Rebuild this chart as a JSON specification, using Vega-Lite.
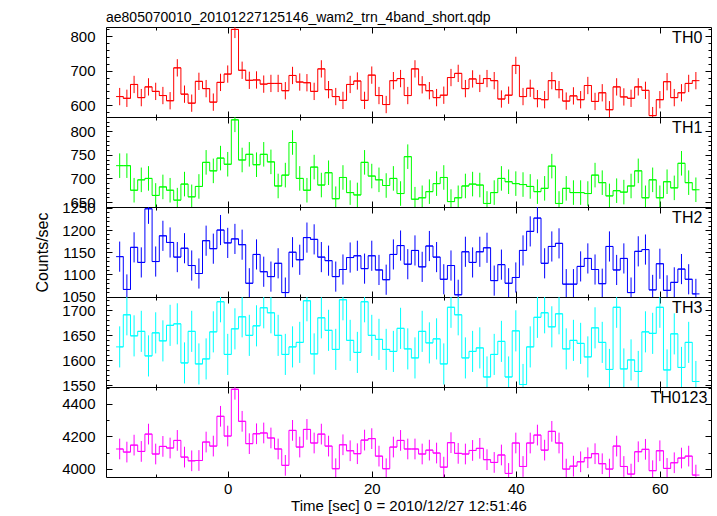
{
"$schema": "https://vega.github.io/schema/vega-lite/v6.json",
"padding": {"left": 34, "top": 11, "right": 5, "bottom": 2},
"title": {"text": "ae805070010_20101227125146_wam2_trn_4band_short.qdp", "anchor": "start", "frame": "group", "offset": -10, "baseline": "alphabetic", "fontSize": 14, "fontWeight": "normal", "font": "Liberation Sans", "color": "#000"},
"data": {"values": [
{"t":-15,"th0":625,"th1":727,"th2":1140,"th3":1627,"th4":4122,"e0":25,"e1":26,"e2":34,"e3":41,"e4":64},
{"t":-14,"th0":620,"th1":727,"th2":1066,"th3":1691,"th4":4103,"e0":25,"e1":26,"e2":34,"e3":41,"e4":64},
{"t":-13,"th0":660,"th1":675,"th2":1161,"th3":1649,"th4":4146,"e0":25,"e1":26,"e2":34,"e3":41,"e4":64},
{"t":-12,"th0":622,"th1":697,"th2":1127,"th3":1658,"th4":4107,"e0":25,"e1":26,"e2":34,"e3":41,"e4":64},
{"t":-11,"th0":653,"th1":700,"th2":1248,"th3":1609,"th4":4214,"e0":25,"e1":26,"e2":34,"e3":41,"e4":64},
{"t":-10,"th0":640,"th1":664,"th2":1129,"th3":1655,"th4":4091,"e0":25,"e1":26,"e2":34,"e3":41,"e4":64},
{"t":-9,"th0":628,"th1":682,"th2":1187,"th3":1639,"th4":4138,"e0":25,"e1":26,"e2":34,"e3":41,"e4":64},
{"t":-8,"th0":613,"th1":675,"th2":1172,"th3":1670,"th4":4128,"e0":25,"e1":26,"e2":34,"e3":41,"e4":64},
{"t":-7,"th0":708,"th1":654,"th2":1139,"th3":1673,"th4":4175,"e0":25,"e1":26,"e2":34,"e3":41,"e4":64},
{"t":-6,"th0":632,"th1":688,"th2":1159,"th3":1595,"th4":4072,"e0":25,"e1":26,"e2":34,"e3":41,"e4":64},
{"t":-5,"th0":606,"th1":661,"th2":1120,"th3":1658,"th4":4049,"e0":25,"e1":26,"e2":34,"e3":41,"e4":64},
{"t":-4,"th0":669,"th1":683,"th2":1102,"th3":1593,"th4":4051,"e0":25,"e1":26,"e2":34,"e3":41,"e4":64},
{"t":-3,"th0":648,"th1":734,"th2":1176,"th3":1603,"th4":4165,"e0":25,"e1":26,"e2":34,"e3":41,"e4":64},
{"t":-2,"th0":609,"th1":716,"th2":1158,"th3":1657,"th4":4140,"e0":25,"e1":26,"e2":34,"e3":41,"e4":64},
{"t":-1,"th0":666,"th1":743,"th2":1200,"th3":1717,"th4":4324,"e0":25,"e1":26,"e2":34,"e3":41,"e4":64},
{"t":0,"th0":690,"th1":730,"th2":1171,"th3":1612,"th4":4202,"e0":25,"e1":26,"e2":34,"e3":41,"e4":64},
{"t":1,"th0":819,"th1":824,"th2":1180,"th3":1663,"th4":4491,"e0":25,"e1":26,"e2":34,"e3":41,"e4":64},
{"t":2,"th0":701,"th1":739,"th2":1167,"th3":1687,"th4":4293,"e0":25,"e1":26,"e2":34,"e3":41,"e4":64},
{"t":3,"th0":672,"th1":751,"th2":1080,"th3":1650,"th4":4155,"e0":25,"e1":26,"e2":34,"e3":41,"e4":64},
{"t":4,"th0":673,"th1":729,"th2":1145,"th3":1669,"th4":4216,"e0":25,"e1":26,"e2":34,"e3":41,"e4":64},
{"t":5,"th0":661,"th1":751,"th2":1106,"th3":1705,"th4":4221,"e0":25,"e1":26,"e2":34,"e3":41,"e4":64},
{"t":6,"th0":663,"th1":735,"th2":1095,"th3":1695,"th4":4190,"e0":25,"e1":26,"e2":34,"e3":41,"e4":64},
{"t":7,"th0":663,"th1":684,"th2":1125,"th3":1650,"th4":4122,"e0":25,"e1":26,"e2":34,"e3":41,"e4":64},
{"t":8,"th0":642,"th1":707,"th2":1059,"th3":1612,"th4":4021,"e0":25,"e1":26,"e2":34,"e3":41,"e4":64},
{"t":9,"th0":686,"th1":776,"th2":1150,"th3":1627,"th4":4237,"e0":25,"e1":26,"e2":34,"e3":41,"e4":64},
{"t":10,"th0":667,"th1":700,"th2":1133,"th3":1636,"th4":4134,"e0":25,"e1":26,"e2":34,"e3":41,"e4":64},
{"t":11,"th0":665,"th1":675,"th2":1183,"th3":1719,"th4":4243,"e0":25,"e1":26,"e2":34,"e3":41,"e4":64},
{"t":12,"th0":640,"th1":724,"th2":1179,"th3":1613,"th4":4159,"e0":25,"e1":26,"e2":34,"e3":41,"e4":64},
{"t":13,"th0":705,"th1":686,"th2":1139,"th3":1685,"th4":4214,"e0":25,"e1":26,"e2":34,"e3":41,"e4":64},
{"t":14,"th0":645,"th1":712,"th2":1131,"th3":1660,"th4":4140,"e0":25,"e1":26,"e2":34,"e3":41,"e4":64},
{"t":15,"th0":625,"th1":657,"th2":1095,"th3":1622,"th4":4000,"e0":25,"e1":26,"e2":34,"e3":41,"e4":64},
{"t":16,"th0":614,"th1":702,"th2":1111,"th3":1721,"th4":4148,"e0":25,"e1":26,"e2":34,"e3":41,"e4":64},
{"t":17,"th0":660,"th1":670,"th2":1138,"th3":1640,"th4":4111,"e0":25,"e1":26,"e2":34,"e3":41,"e4":64},
{"t":18,"th0":670,"th1":665,"th2":1142,"th3":1616,"th4":4093,"e0":25,"e1":26,"e2":34,"e3":41,"e4":64},
{"t":19,"th0":614,"th1":734,"th2":1113,"th3":1717,"th4":4177,"e0":25,"e1":26,"e2":34,"e3":41,"e4":64},
{"t":20,"th0":687,"th1":705,"th2":1142,"th3":1650,"th4":4186,"e0":25,"e1":26,"e2":34,"e3":41,"e4":64},
{"t":21,"th0":628,"th1":697,"th2":1110,"th3":1642,"th4":4078,"e0":25,"e1":26,"e2":34,"e3":41,"e4":64},
{"t":22,"th0":602,"th1":685,"th2":1088,"th3":1622,"th4":4000,"e0":25,"e1":26,"e2":34,"e3":41,"e4":64},
{"t":23,"th0":671,"th1":700,"th2":1145,"th3":1618,"th4":4134,"e0":25,"e1":26,"e2":34,"e3":41,"e4":64},
{"t":24,"th0":677,"th1":668,"th2":1165,"th3":1664,"th4":4175,"e0":25,"e1":26,"e2":34,"e3":41,"e4":64},
{"t":25,"th0":628,"th1":746,"th2":1123,"th3":1623,"th4":4122,"e0":25,"e1":26,"e2":34,"e3":41,"e4":64},
{"t":26,"th0":705,"th1":656,"th2":1154,"th3":1605,"th4":4122,"e0":25,"e1":26,"e2":34,"e3":41,"e4":64},
{"t":27,"th0":659,"th1":659,"th2":1117,"th3":1658,"th4":4091,"e0":25,"e1":26,"e2":34,"e3":41,"e4":64},
{"t":28,"th0":642,"th1":672,"th2":1164,"th3":1635,"th4":4115,"e0":25,"e1":26,"e2":34,"e3":41,"e4":64},
{"t":29,"th0":622,"th1":689,"th2":1139,"th3":1643,"th4":4097,"e0":25,"e1":26,"e2":34,"e3":41,"e4":64},
{"t":30,"th0":629,"th1":702,"th2":1089,"th3":1593,"th4":4010,"e0":25,"e1":26,"e2":34,"e3":41,"e4":64},
{"t":31,"th0":680,"th1":651,"th2":1120,"th3":1706,"th4":4161,"e0":25,"e1":26,"e2":34,"e3":41,"e4":64},
{"t":32,"th0":692,"th1":659,"th2":1054,"th3":1691,"th4":4095,"e0":25,"e1":26,"e2":34,"e3":41,"e4":64},
{"t":33,"th0":648,"th1":684,"th2":1151,"th3":1605,"th4":4091,"e0":25,"e1":26,"e2":34,"e3":41,"e4":64},
{"t":34,"th0":676,"th1":688,"th2":1127,"th3":1618,"th4":4113,"e0":25,"e1":26,"e2":34,"e3":41,"e4":64},
{"t":35,"th0":663,"th1":686,"th2":1151,"th3":1625,"th4":4126,"e0":25,"e1":26,"e2":34,"e3":41,"e4":64},
{"t":36,"th0":677,"th1":647,"th2":1160,"th3":1567,"th4":4056,"e0":25,"e1":26,"e2":34,"e3":41,"e4":64},
{"t":37,"th0":671,"th1":670,"th2":1086,"th3":1612,"th4":4039,"e0":25,"e1":26,"e2":34,"e3":41,"e4":64},
{"t":38,"th0":618,"th1":700,"th2":1122,"th3":1638,"th4":4085,"e0":25,"e1":26,"e2":34,"e3":41,"e4":64},
{"t":39,"th0":629,"th1":693,"th2":1080,"th3":1567,"th4":3971,"e0":25,"e1":26,"e2":34,"e3":41,"e4":64},
{"t":40,"th0":715,"th1":689,"th2":1093,"th3":1659,"th4":4159,"e0":25,"e1":26,"e2":34,"e3":41,"e4":64},
{"t":41,"th0":625,"th1":687,"th2":1154,"th3":1552,"th4":4014,"e0":25,"e1":26,"e2":34,"e3":41,"e4":64},
{"t":42,"th0":649,"th1":683,"th2":1197,"th3":1627,"th4":4159,"e0":25,"e1":26,"e2":34,"e3":41,"e4":64},
{"t":43,"th0":619,"th1":672,"th2":1227,"th3":1686,"th4":4208,"e0":25,"e1":26,"e2":34,"e3":41,"e4":64},
{"t":44,"th0":616,"th1":679,"th2":1125,"th3":1695,"th4":4115,"e0":25,"e1":26,"e2":34,"e3":41,"e4":64},
{"t":45,"th0":671,"th1":726,"th2":1163,"th3":1667,"th4":4231,"e0":25,"e1":26,"e2":34,"e3":41,"e4":64},
{"t":46,"th0":645,"th1":647,"th2":1170,"th3":1693,"th4":4159,"e0":25,"e1":26,"e2":34,"e3":41,"e4":64},
{"t":47,"th0":612,"th1":679,"th2":1078,"th3":1623,"th4":3998,"e0":25,"e1":26,"e2":34,"e3":41,"e4":64},
{"t":48,"th0":627,"th1":670,"th2":1078,"th3":1640,"th4":4016,"e0":25,"e1":26,"e2":34,"e3":41,"e4":64},
{"t":49,"th0":616,"th1":670,"th2":1118,"th3":1634,"th4":4043,"e0":25,"e1":26,"e2":34,"e3":41,"e4":64},
{"t":50,"th0":657,"th1":668,"th2":1136,"th3":1607,"th4":4068,"e0":25,"e1":26,"e2":34,"e3":41,"e4":64},
{"t":51,"th0":611,"th1":707,"th2":1111,"th3":1665,"th4":4093,"e0":25,"e1":26,"e2":34,"e3":41,"e4":64},
{"t":52,"th0":636,"th1":691,"th2":1079,"th3":1636,"th4":4031,"e0":25,"e1":26,"e2":34,"e3":41,"e4":64},
{"t":53,"th0":587,"th1":663,"th2":1163,"th3":1582,"th4":3998,"e0":25,"e1":26,"e2":34,"e3":41,"e4":64},
{"t":54,"th0":653,"th1":674,"th2":1110,"th3":1706,"th4":4140,"e0":25,"e1":26,"e2":34,"e3":41,"e4":64},
{"t":55,"th0":624,"th1":671,"th2":1136,"th3":1583,"th4":4014,"e0":25,"e1":26,"e2":34,"e3":41,"e4":64},
{"t":56,"th0":620,"th1":684,"th2":1059,"th3":1601,"th4":3967,"e0":25,"e1":26,"e2":34,"e3":41,"e4":64},
{"t":57,"th0":653,"th1":716,"th2":1152,"th3":1578,"th4":4105,"e0":25,"e1":26,"e2":34,"e3":41,"e4":64},
{"t":58,"th0":643,"th1":659,"th2":1156,"th3":1657,"th4":4120,"e0":25,"e1":26,"e2":34,"e3":41,"e4":64},
{"t":59,"th0":570,"th1":697,"th2":1065,"th3":1654,"th4":3988,"e0":25,"e1":26,"e2":34,"e3":41,"e4":64},
{"t":60,"th0":616,"th1":659,"th2":1124,"th3":1706,"th4":4111,"e0":25,"e1":26,"e2":34,"e3":41,"e4":64},
{"t":61,"th0":668,"th1":693,"th2":1064,"th3":1581,"th4":4002,"e0":25,"e1":26,"e2":34,"e3":41,"e4":64},
{"t":62,"th0":622,"th1":680,"th2":1082,"th3":1653,"th4":4037,"e0":25,"e1":26,"e2":34,"e3":41,"e4":64},
{"t":63,"th0":636,"th1":732,"th2":1112,"th3":1586,"th4":4066,"e0":25,"e1":26,"e2":34,"e3":41,"e4":64},
{"t":64,"th0":663,"th1":691,"th2":1089,"th3":1636,"th4":4078,"e0":25,"e1":26,"e2":34,"e3":41,"e4":64},
{"t":65,"th0":671,"th1":676,"th2":1056,"th3":1558,"th4":3961,"e0":25,"e1":26,"e2":34,"e3":41,"e4":64}
]},
"transform": [{"calculate": "datum.t - 0.5", "as": "t0"}, {"calculate": "datum.t + 0.5", "as": "t1"}],
"spacing": 0,
"bounds": "flush",
"vconcat": [
{
 "width": 605, "height": 90,
 "transform": [{"calculate": "datum.th0 - datum.e0", "as": "lo"}, {"calculate": "datum.th0 + datum.e0", "as": "hi"}],
 "resolve": {"axis": {"x": "independent", "y": "independent"}},
 "layer": [
  {"mark": {"type": "line", "interpolate": "step", "color": "#ff0000", "strokeWidth": 1, "clip": true},
   "encoding": {
    "x": {"field": "t", "type": "quantitative", "scale": {"domain": [-16.9, 67.1], "nice": false, "zero": false}, "axis": {"orient": "bottom", "values": [0, 20, 40, 60], "labels": false, "tickSize": -6, "title": null}},
    "y": {"field": "th0", "type": "quantitative", "scale": {"domain": [566, 826], "nice": false, "zero": false}, "axis": {"orient": "left", "values": [600, 700, 800], "format": "d", "tickSize": -6, "labelPadding": 17, "title": null}}}},
  {"mark": {"type": "rule", "color": "#ff0000", "strokeWidth": 1, "clip": true},
   "encoding": {
    "x": {"field": "t0", "type": "quantitative", "scale": {"domain": [-16.9, 67.1], "nice": false, "zero": false}, "axis": {"orient": "bottom", "values": [-10, 10, 30, 50], "labels": false, "tickSize": -3, "title": null}},
    "x2": {"field": "t1"},
    "y": {"field": "th0", "type": "quantitative", "scale": {"domain": [566, 826], "nice": false, "zero": false}, "axis": {"orient": "left", "values": [580, 620, 640, 660, 680, 720, 740, 760, 780, 820], "labels": false, "tickSize": -3, "title": null}}}},
  {"mark": {"type": "rule", "color": "#ff0000", "strokeWidth": 1, "clip": true},
   "encoding": {
    "x": {"field": "t", "type": "quantitative", "scale": {"domain": [-16.9, 67.1], "nice": false, "zero": false}, "axis": {"orient": "top", "values": [0, 20, 40, 60], "labels": false, "tickSize": -6, "title": null}},
    "y": {"field": "th0", "type": "quantitative", "scale": {"domain": [566, 826], "nice": false, "zero": false}, "axis": {"orient": "right", "values": [600, 700, 800], "labels": false, "tickSize": -6, "title": null}},
    "y2": {"field": "hi"}}},
  {"mark": {"type": "rule", "color": "#ff0000", "strokeWidth": 1, "clip": true},
   "encoding": {
    "x": {"field": "t", "type": "quantitative", "scale": {"domain": [-16.9, 67.1], "nice": false, "zero": false}, "axis": {"orient": "top", "values": [-10, 10, 30, 50], "labels": false, "tickSize": -3, "title": null}},
    "y": {"field": "lo", "type": "quantitative", "scale": {"domain": [566, 826], "nice": false, "zero": false}, "axis": {"orient": "right", "values": [580, 620, 640, 660, 680, 720, 740, 760, 780, 820], "labels": false, "tickSize": -3, "title": null}},
    "y2": {"field": "th0"}}},
  {"data": {"values": [{"label": "TH0"}]},
   "mark": {"type": "text", "align": "right", "baseline": "alphabetic", "fontSize": 16, "font": "Liberation Sans", "color": "#000"},
   "encoding": {"text": {"field": "label"}, "x": {"datum": 65.9, "type": "quantitative", "axis": null}, "y": {"datum": 781, "type": "quantitative", "axis": null}}}
 ]
},
{
 "width": 605, "height": 90,
 "transform": [{"calculate": "datum.th1 - datum.e1", "as": "lo"}, {"calculate": "datum.th1 + datum.e1", "as": "hi"}],
 "resolve": {"axis": {"x": "independent", "y": "independent"}},
 "layer": [
  {"mark": {"type": "line", "interpolate": "step", "color": "#00ff00", "strokeWidth": 1, "clip": true},
   "encoding": {
    "x": {"field": "t", "type": "quantitative", "scale": {"domain": [-16.9, 67.1], "nice": false, "zero": false}, "axis": {"orient": "bottom", "values": [0, 20, 40, 60], "labels": false, "tickSize": -6, "title": null}},
    "y": {"field": "th1", "type": "quantitative", "scale": {"domain": [639.5, 830], "nice": false, "zero": false}, "axis": {"orient": "left", "values": [650, 700, 750, 800], "format": "d", "tickSize": -6, "labelPadding": 17, "title": null}}}},
  {"mark": {"type": "rule", "color": "#00ff00", "strokeWidth": 1, "clip": true},
   "encoding": {
    "x": {"field": "t0", "type": "quantitative", "scale": {"domain": [-16.9, 67.1], "nice": false, "zero": false}, "axis": {"orient": "bottom", "values": [-10, 10, 30, 50], "labels": false, "tickSize": -3, "title": null}},
    "x2": {"field": "t1"},
    "y": {"field": "th1", "type": "quantitative", "scale": {"domain": [639.5, 830], "nice": false, "zero": false}, "axis": {"orient": "left", "values": [640, 660, 670, 680, 690, 710, 720, 730, 740, 760, 770, 780, 790, 810, 820, 830], "labels": false, "tickSize": -3, "title": null}}}},
  {"mark": {"type": "rule", "color": "#00ff00", "strokeWidth": 1, "clip": true},
   "encoding": {
    "x": {"field": "t", "type": "quantitative", "scale": {"domain": [-16.9, 67.1], "nice": false, "zero": false}, "axis": {"orient": "top", "values": [0, 20, 40, 60], "labels": false, "tickSize": -6, "title": null}},
    "y": {"field": "th1", "type": "quantitative", "scale": {"domain": [639.5, 830], "nice": false, "zero": false}, "axis": {"orient": "right", "values": [650, 700, 750, 800], "labels": false, "tickSize": -6, "title": null}},
    "y2": {"field": "hi"}}},
  {"mark": {"type": "rule", "color": "#00ff00", "strokeWidth": 1, "clip": true},
   "encoding": {
    "x": {"field": "t", "type": "quantitative", "scale": {"domain": [-16.9, 67.1], "nice": false, "zero": false}, "axis": {"orient": "top", "values": [-10, 10, 30, 50], "labels": false, "tickSize": -3, "title": null}},
    "y": {"field": "lo", "type": "quantitative", "scale": {"domain": [639.5, 830], "nice": false, "zero": false}, "axis": {"orient": "right", "values": [640, 660, 670, 680, 690, 710, 720, 730, 740, 760, 770, 780, 790, 810, 820, 830], "labels": false, "tickSize": -3, "title": null}},
    "y2": {"field": "th1"}}},
  {"data": {"values": [{"label": "TH1"}]},
   "mark": {"type": "text", "align": "right", "baseline": "alphabetic", "fontSize": 16, "font": "Liberation Sans", "color": "#000"},
   "encoding": {"text": {"field": "label"}, "x": {"datum": 65.9, "type": "quantitative", "axis": null}, "y": {"datum": 797, "type": "quantitative", "axis": null}}}
 ]
},
{
 "width": 605, "height": 90,
 "transform": [{"calculate": "datum.th2 - datum.e2", "as": "lo"}, {"calculate": "datum.th2 + datum.e2", "as": "hi"}],
 "resolve": {"axis": {"x": "independent", "y": "independent"}},
 "layer": [
  {"mark": {"type": "line", "interpolate": "step", "color": "#0000ff", "strokeWidth": 1, "clip": true},
   "encoding": {
    "x": {"field": "t", "type": "quantitative", "scale": {"domain": [-16.9, 67.1], "nice": false, "zero": false}, "axis": {"orient": "bottom", "values": [0, 20, 40, 60], "labels": false, "tickSize": -6, "title": null}},
    "y": {"field": "th2", "type": "quantitative", "scale": {"domain": [1049, 1252], "nice": false, "zero": false}, "axis": {"orient": "left", "values": [1050, 1100, 1150, 1200, 1250], "format": "d", "tickSize": -6, "labelPadding": 17, "title": "Counts/sec", "titlePadding": 11, "titleFontSize": 16}}}},
  {"mark": {"type": "rule", "color": "#0000ff", "strokeWidth": 1, "clip": true},
   "encoding": {
    "x": {"field": "t0", "type": "quantitative", "scale": {"domain": [-16.9, 67.1], "nice": false, "zero": false}, "axis": {"orient": "bottom", "values": [-10, 10, 30, 50], "labels": false, "tickSize": -3, "title": null}},
    "x2": {"field": "t1"},
    "y": {"field": "th2", "type": "quantitative", "scale": {"domain": [1049, 1252], "nice": false, "zero": false}, "axis": {"orient": "left", "values": [1060, 1070, 1080, 1090, 1110, 1120, 1130, 1140, 1160, 1170, 1180, 1190, 1210, 1220, 1230, 1240], "labels": false, "tickSize": -3, "title": null}}}},
  {"mark": {"type": "rule", "color": "#0000ff", "strokeWidth": 1, "clip": true},
   "encoding": {
    "x": {"field": "t", "type": "quantitative", "scale": {"domain": [-16.9, 67.1], "nice": false, "zero": false}, "axis": {"orient": "top", "values": [0, 20, 40, 60], "labels": false, "tickSize": -6, "title": null}},
    "y": {"field": "th2", "type": "quantitative", "scale": {"domain": [1049, 1252], "nice": false, "zero": false}, "axis": {"orient": "right", "values": [1050, 1100, 1150, 1200, 1250], "labels": false, "tickSize": -6, "title": null}},
    "y2": {"field": "hi"}}},
  {"mark": {"type": "rule", "color": "#0000ff", "strokeWidth": 1, "clip": true},
   "encoding": {
    "x": {"field": "t", "type": "quantitative", "scale": {"domain": [-16.9, 67.1], "nice": false, "zero": false}, "axis": {"orient": "top", "values": [-10, 10, 30, 50], "labels": false, "tickSize": -3, "title": null}},
    "y": {"field": "lo", "type": "quantitative", "scale": {"domain": [1049, 1252], "nice": false, "zero": false}, "axis": {"orient": "right", "values": [1060, 1070, 1080, 1090, 1110, 1120, 1130, 1140, 1160, 1170, 1180, 1190, 1210, 1220, 1230, 1240], "labels": false, "tickSize": -3, "title": null}},
    "y2": {"field": "th2"}}},
  {"data": {"values": [{"label": "TH2"}]},
   "mark": {"type": "text", "align": "right", "baseline": "alphabetic", "fontSize": 16, "font": "Liberation Sans", "color": "#000"},
   "encoding": {"text": {"field": "label"}, "x": {"datum": 65.9, "type": "quantitative", "axis": null}, "y": {"datum": 1216.6, "type": "quantitative", "axis": null}}}
 ]
},
{
 "width": 605, "height": 90,
 "transform": [{"calculate": "datum.th3 - datum.e3", "as": "lo"}, {"calculate": "datum.th3 + datum.e3", "as": "hi"}],
 "resolve": {"axis": {"x": "independent", "y": "independent"}},
 "layer": [
  {"mark": {"type": "line", "interpolate": "step", "color": "#00ffff", "strokeWidth": 1, "clip": true},
   "encoding": {
    "x": {"field": "t", "type": "quantitative", "scale": {"domain": [-16.9, 67.1], "nice": false, "zero": false}, "axis": {"orient": "bottom", "values": [0, 20, 40, 60], "labels": false, "tickSize": -6, "title": null}},
    "y": {"field": "th3", "type": "quantitative", "scale": {"domain": [1547, 1726.5], "nice": false, "zero": false}, "axis": {"orient": "left", "values": [1550, 1600, 1650, 1700], "format": "d", "tickSize": -6, "labelPadding": 17, "title": null}}}},
  {"mark": {"type": "rule", "color": "#00ffff", "strokeWidth": 1, "clip": true},
   "encoding": {
    "x": {"field": "t0", "type": "quantitative", "scale": {"domain": [-16.9, 67.1], "nice": false, "zero": false}, "axis": {"orient": "bottom", "values": [-10, 10, 30, 50], "labels": false, "tickSize": -3, "title": null}},
    "x2": {"field": "t1"},
    "y": {"field": "th3", "type": "quantitative", "scale": {"domain": [1547, 1726.5], "nice": false, "zero": false}, "axis": {"orient": "left", "values": [1560, 1570, 1580, 1590, 1610, 1620, 1630, 1640, 1660, 1670, 1680, 1690, 1710, 1720], "labels": false, "tickSize": -3, "title": null}}}},
  {"mark": {"type": "rule", "color": "#00ffff", "strokeWidth": 1, "clip": true},
   "encoding": {
    "x": {"field": "t", "type": "quantitative", "scale": {"domain": [-16.9, 67.1], "nice": false, "zero": false}, "axis": {"orient": "top", "values": [0, 20, 40, 60], "labels": false, "tickSize": -6, "title": null}},
    "y": {"field": "th3", "type": "quantitative", "scale": {"domain": [1547, 1726.5], "nice": false, "zero": false}, "axis": {"orient": "right", "values": [1550, 1600, 1650, 1700], "labels": false, "tickSize": -6, "title": null}},
    "y2": {"field": "hi"}}},
  {"mark": {"type": "rule", "color": "#00ffff", "strokeWidth": 1, "clip": true},
   "encoding": {
    "x": {"field": "t", "type": "quantitative", "scale": {"domain": [-16.9, 67.1], "nice": false, "zero": false}, "axis": {"orient": "top", "values": [-10, 10, 30, 50], "labels": false, "tickSize": -3, "title": null}},
    "y": {"field": "lo", "type": "quantitative", "scale": {"domain": [1547, 1726.5], "nice": false, "zero": false}, "axis": {"orient": "right", "values": [1560, 1570, 1580, 1590, 1610, 1620, 1630, 1640, 1660, 1670, 1680, 1690, 1710, 1720], "labels": false, "tickSize": -3, "title": null}},
    "y2": {"field": "th3"}}},
  {"data": {"values": [{"label": "TH3"}]},
   "mark": {"type": "text", "align": "right", "baseline": "alphabetic", "fontSize": 16, "font": "Liberation Sans", "color": "#000"},
   "encoding": {"text": {"field": "label"}, "x": {"datum": 65.9, "type": "quantitative", "axis": null}, "y": {"datum": 1695, "type": "quantitative", "axis": null}}}
 ]
},
{
 "width": 605, "height": 90,
 "transform": [{"calculate": "datum.th4 - datum.e4", "as": "lo"}, {"calculate": "datum.th4 + datum.e4", "as": "hi"}],
 "resolve": {"axis": {"x": "independent", "y": "independent"}},
 "layer": [
  {"mark": {"type": "line", "interpolate": "step", "color": "#ff00ff", "strokeWidth": 1, "clip": true},
   "encoding": {
    "x": {"field": "t", "type": "quantitative", "scale": {"domain": [-16.9, 67.1], "nice": false, "zero": false}, "axis": {"orient": "bottom", "values": [0, 20, 40, 60], "labels": true, "tickSize": -6, "labelPadding": 10, "title": "Time [sec] 0 = 2010/12/27 12:51:46", "titleFontSize": 15, "titlePadding": 2}},
    "y": {"field": "th4", "type": "quantitative", "scale": {"domain": [3949, 4505], "nice": false, "zero": false}, "axis": {"orient": "left", "values": [4000, 4200, 4400], "format": "d", "tickSize": -6, "labelPadding": 17, "title": null}}}},
  {"mark": {"type": "rule", "color": "#ff00ff", "strokeWidth": 1, "clip": true},
   "encoding": {
    "x": {"field": "t0", "type": "quantitative", "scale": {"domain": [-16.9, 67.1], "nice": false, "zero": false}, "axis": {"orient": "bottom", "values": [-10, 10, 30, 50], "labels": false, "tickSize": -3, "title": null}},
    "x2": {"field": "t1"},
    "y": {"field": "th4", "type": "quantitative", "scale": {"domain": [3949, 4505], "nice": false, "zero": false}, "axis": {"orient": "left", "values": [4100, 4300, 4500], "labels": false, "tickSize": -3, "title": null}}}},
  {"mark": {"type": "rule", "color": "#ff00ff", "strokeWidth": 1, "clip": true},
   "encoding": {
    "x": {"field": "t", "type": "quantitative", "scale": {"domain": [-16.9, 67.1], "nice": false, "zero": false}, "axis": {"orient": "top", "values": [0, 20, 40, 60], "labels": false, "tickSize": -6, "title": null}},
    "y": {"field": "th4", "type": "quantitative", "scale": {"domain": [3949, 4505], "nice": false, "zero": false}, "axis": {"orient": "right", "values": [4000, 4200, 4400], "labels": false, "tickSize": -6, "title": null}},
    "y2": {"field": "hi"}}},
  {"mark": {"type": "rule", "color": "#ff00ff", "strokeWidth": 1, "clip": true},
   "encoding": {
    "x": {"field": "t", "type": "quantitative", "scale": {"domain": [-16.9, 67.1], "nice": false, "zero": false}, "axis": {"orient": "top", "values": [-10, 10, 30, 50], "labels": false, "tickSize": -3, "title": null}},
    "y": {"field": "lo", "type": "quantitative", "scale": {"domain": [3949, 4505], "nice": false, "zero": false}, "axis": {"orient": "right", "values": [4100, 4300, 4500], "labels": false, "tickSize": -3, "title": null}},
    "y2": {"field": "th4"}}},
  {"data": {"values": [{"label": "TH0123"}]},
   "mark": {"type": "text", "align": "right", "baseline": "alphabetic", "fontSize": 16, "font": "Liberation Sans", "color": "#000"},
   "encoding": {"text": {"field": "label"}, "x": {"datum": 66.6, "type": "quantitative", "axis": null}, "y": {"datum": 4408, "type": "quantitative", "axis": null}}}
 ]
}
],
"config": {
 "view": {"stroke": "#000", "strokeWidth": 1},
 "axis": {"grid": false, "domain": false, "labelFont": "Liberation Sans", "labelFontSize": 15, "labelColor": "#000", "tickColor": "#000", "tickWidth": 1, "titleFont": "Liberation Sans", "titleFontWeight": "normal", "titleColor": "#000", "labelOverlap": false, "labelBound": false, "labelFlush": false},
 "title": {"font": "Liberation Sans", "fontWeight": "normal", "color": "#000"}
}
}
